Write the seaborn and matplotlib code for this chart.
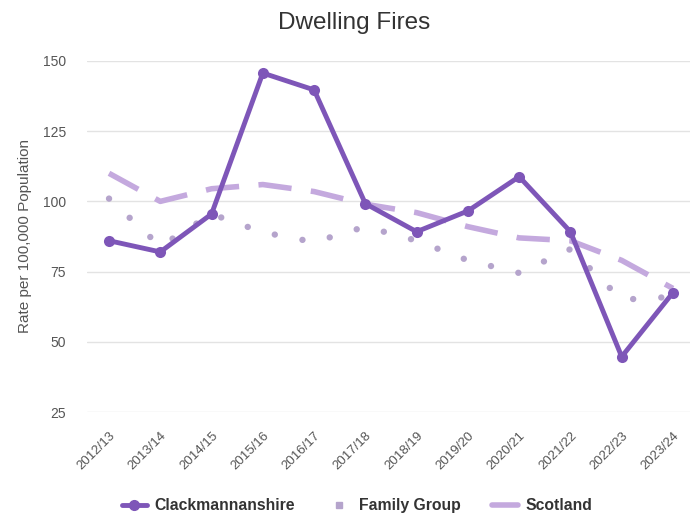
import matplotlib
matplotlib.use("Agg")
import matplotlib.pyplot as plt
import seaborn as sns
import pandas as pd
from matplotlib.lines import Line2D

years = ["2012/13", "2013/14", "2014/15", "2015/16", "2016/17", "2017/18",
         "2018/19", "2019/20", "2020/21", "2021/22", "2022/23", "2023/24"]
clackmannanshire = [86, 82, 95.5, 145.7, 139.7, 99.2, 89.2, 96.6, 108.8, 89.2, 44.7, 67.5]
family_group = [101, 84, 95.5, 89, 85.5, 91, 86, 79, 74.5, 83, 65, 66]
scotland = [110, 100, 104.5, 106, 103.5, 99, 96, 91, 87, 86, 79, 69]
y_ticks = [25, 50, 75, 100, 125, 150]

c_clack = "#7e56b8"
c_family = "#b5a4cc"
c_scot = "#c4a9de"

df = pd.DataFrame({"idx": list(range(len(years))), "year": years,
                   "Clackmannanshire": clackmannanshire,
                   "Family Group": family_group, "Scotland": scotland})

sns.set_style("white")
plt.rcParams["font.family"] = ["Liberation Sans", "DejaVu Sans"]

fig = plt.figure(figsize=(6.93, 5.15), dpi=100)
ax = fig.add_axes([0.1255, 0.2, 0.87, 0.6816])

sns.lineplot(data=df, x="idx", y="Scotland", ax=ax, color=c_scot, linewidth=4,
             zorder=2)
ax.lines[-1].set_dashes([6, 3.5])
sns.lineplot(data=df, x="idx", y="Family Group", ax=ax, color=c_family, linewidth=4.6,
             zorder=2)
ax.lines[-1].set_linestyle((0, (0.01, 4.4)))
ax.lines[-1].set_dash_capstyle("round")
sns.lineplot(data=df, x="idx", y="Clackmannanshire", ax=ax, color=c_clack,
             linewidth=3.5, marker="o", markersize=8, markeredgewidth=0, zorder=3)

ax.set_ylim(25, 150)
ax.set_yticks(y_ticks)
ax.set_xlim(-0.43, 11.33)
ax.set_xticks(range(len(years)))
ax.set_xticklabels(years, rotation=45, ha="right", rotation_mode="anchor",
                   color="#555555", fontsize=9.5)
ax.tick_params(axis="y", colors="#555555", labelsize=10, length=0, pad=15)
ax.tick_params(axis="x", length=0, pad=13)
ax.grid(axis="y", color="#e3e3e3", linewidth=1)
ax.grid(axis="x", visible=False)
for s in ax.spines.values():
    s.set_visible(False)
ax.set_xlabel("")
ax.set_ylabel("Rate per 100,000 Population", color="#555555", fontsize=11, labelpad=8)

fig.text(0.511, 0.955, "Dwelling Fires", ha="center", va="center", fontsize=17.5,
         color="#333333")

handles = [
    Line2D([0], [0], color=c_clack, linewidth=3.5, marker="o", markersize=7),
    Line2D([0], [0], color=c_family, linestyle="none", marker="s", markersize=4),
    Line2D([0], [0], color=c_scot, linewidth=4),
]
leg = fig.legend(handles, ["Clackmannanshire", "Family Group", "Scotland"],
                 loc="center", bbox_to_anchor=(0.515, 0.018), ncol=3, frameon=False,
                 prop={"weight": "bold", "size": 11.3}, handlelength=1.6,
                 columnspacing=2.0, handletextpad=0.5)
for t in leg.get_texts():
    t.set_color("#333333")

fig.savefig("out.png", dpi=100)
